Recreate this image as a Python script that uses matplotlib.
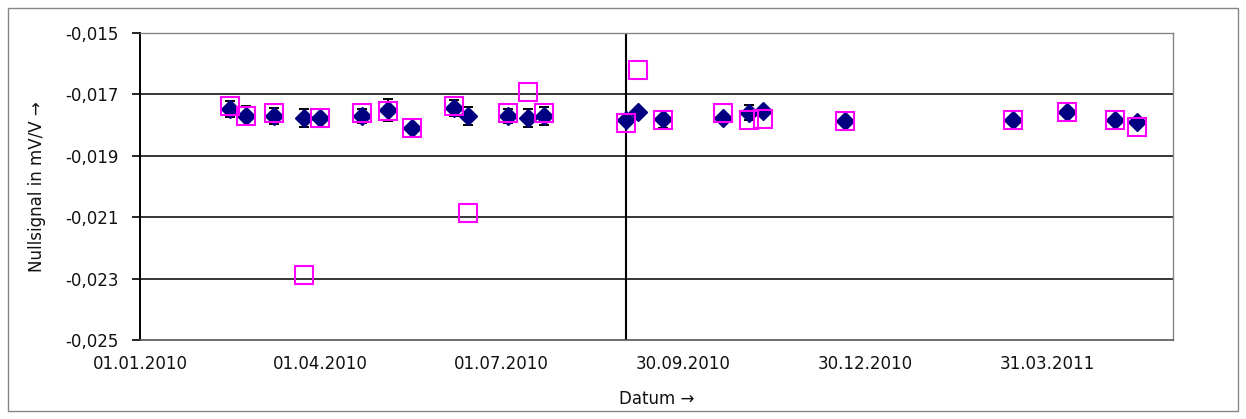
import matplotlib
matplotlib.use("Agg")
import matplotlib.pyplot as plt
import matplotlib.dates as mdates
from matplotlib.patches import Rectangle
from matplotlib.ticker import FuncFormatter
import pandas as pd

dates = [
    "15.02.2010", "23.02.2010", "09.03.2010", "24.03.2010", "01.04.2010", "22.04.2010",
    "05.05.2010", "17.05.2010", "07.06.2010", "14.06.2010", "04.07.2010", "14.07.2010",
    "22.07.2010", "01.09.2010", "07.09.2010", "20.09.2010", "20.10.2010", "02.11.2010",
    "09.11.2010", "20.12.2010", "14.03.2011", "10.04.2011", "04.05.2011", "15.05.2011",
]
mean_signal = [
    -0.01748, -0.01770, -0.01770, -0.01778, -0.01778, -0.01770,
    -0.01751, -0.01810, -0.01745, -0.01770, -0.01770, -0.01778,
    -0.01770, -0.01783, -0.01756, -0.01781, -0.01778, -0.01760,
    -0.01753, -0.01786, -0.01783, -0.01756, -0.01783, -0.01791,
]
signal_err = [
    0.00027, 0.00031, 0.00027, 0.00029, 0.0, 0.00024,
    0.00036, 0.0, 0.00026, 0.00029, 0.00024, 0.00029,
    0.00030, 0.0, 0.0, 0.00027, 0.0, 0.00024,
    0.0, 0.0, 0.0, 0.0, 0.0, 0.0,
]
single_signal = [
    -0.01737, -0.01770, -0.01762, -0.02288, -0.01778, -0.01762,
    -0.01753, -0.01810, -0.01737, -0.02087, -0.01762, -0.01693,
    -0.01762, -0.01794, -0.01621, -0.01782, -0.01762, -0.01782,
    -0.01781, -0.01786, -0.01783, -0.01756, -0.01783, -0.01805,
]
marker_date = "01.09.2010"
tick_dates = ["01.01.2010", "01.04.2010", "01.07.2010", "30.09.2010", "30.12.2010", "31.03.2011"]
x_range = ["01.01.2010", "02.06.2011"]
y_ticks = [-0.025, -0.023, -0.021, -0.019, -0.017, -0.015]


def to_dt(values):
    return pd.to_datetime(values, format="%d.%m.%Y")


def main():
    plt.rcParams["font.family"] = ["DejaVu Sans"]
    plt.rcParams["axes.unicode_minus"] = False

    x = to_dt(dates)
    fig = plt.figure(figsize=(12.46, 4.19), dpi=100)
    ax = fig.add_axes([140 / 1246, 1 - 340 / 419, (1173 - 140) / 1246, (340 - 33) / 419])

    for y in y_ticks[1:]:
        ax.axhline(y, color="black", lw=1.1, zorder=1)
    ax.axvline(to_dt([marker_date])[0], color="black", lw=1.5, zorder=1)

    ax.errorbar(x, mean_signal, yerr=signal_err, fmt="none", ecolor="black",
                elinewidth=1.4, capsize=3.9, capthick=1.4, zorder=2)
    ax.plot(x, mean_signal, "D", color="#000080", ms=9, zorder=3)
    ax.plot(x, single_signal, "s", mfc="none", mec="#FF00FF", mew=1.5, ms=12.3, zorder=4)

    lims = to_dt(x_range)
    ax.set_xlim(lims[0], lims[1])
    ax.set_ylim(-0.025, -0.015)
    ax.set_xticks(to_dt(tick_dates))
    ax.xaxis.set_major_formatter(mdates.DateFormatter("%d.%m.%Y"))
    ax.set_yticks(y_ticks)
    ax.yaxis.set_major_formatter(FuncFormatter(lambda v, p: f"{v:.3f}".replace(".", ",")))

    ax.tick_params(axis="y", direction="out", length=5.5, width=1.2, pad=10, labelsize=12,
                   labelcolor="#111111")
    ax.tick_params(axis="x", length=0, pad=11, labelsize=12, labelcolor="#111111")

    ax.spines["left"].set_color("black")
    ax.spines["left"].set_linewidth(1.4)
    ax.spines["bottom"].set_color("#555555")
    ax.spines["bottom"].set_linewidth(1.2)
    for side in ["right", "top"]:
        ax.spines[side].set_color("#868686")
        ax.spines[side].set_linewidth(1.0)

    ax.set_xlabel("Datum \u2192", fontsize=12, labelpad=12, color="#111111")
    ax.set_ylabel("Nullsignal in mV/V \u2192", fontsize=12, labelpad=14, color="#111111")

    fig.patches.append(Rectangle((8 / 1246, 1 - 411 / 419), 1230 / 1246, 403 / 419,
                                 transform=fig.transFigure, fill=False,
                                 edgecolor="#868686", lw=1.0))
    fig.savefig("out.png", dpi=100)
    plt.close(fig)


if __name__ == "__main__":
    main()
